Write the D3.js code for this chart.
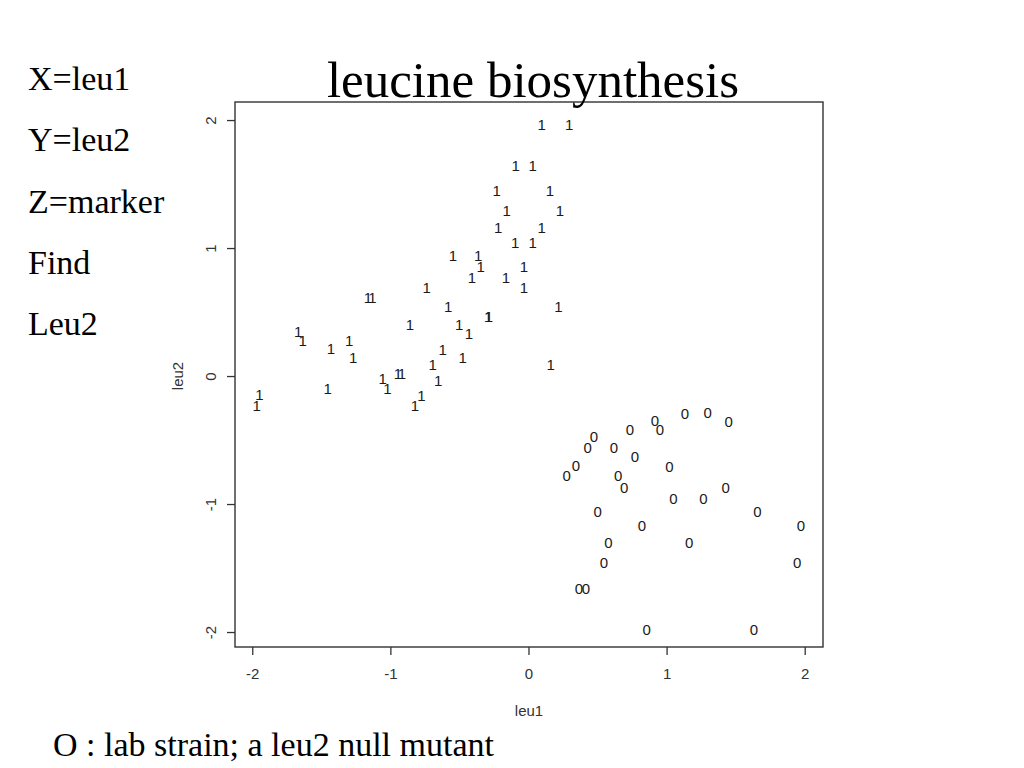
<!DOCTYPE html>
<html>
<head>
<meta charset="utf-8">
<script src="https://cdn.jsdelivr.net/npm/d3@7"></script>
<style>
    body { margin: 0; background: #fff; }
    svg { display: block; }
</style>
</head>
<body>
<div id="wrapper"></div>
<script>
// marker "1" group (leu1, leu2)
const onesX = [0.096, 0.295, -0.093, 0.030, -0.230, 0.156, -0.158, 0.228, -0.219, 0.096,
    -0.096, 0.030, -0.547, -0.364, -0.346, -0.033, -0.409, -0.163, -0.737, -0.033,
    -1.162, -1.130, -0.581, 0.216, -0.291, -0.286, -0.858, -0.501, -0.431, -1.667,
    -1.635, -1.298, -1.430, -0.621, -1.269, -0.476, -0.694, 0.161, -1.056, -1.022,
    -0.945, -0.916, -0.653, -1.454, -0.775, -0.822, -1.949, -1.968];
const onesY = [1.969, 1.969, 1.648, 1.648, 1.448, 1.448, 1.291, 1.291, 1.159, 1.159,
    1.045, 1.045, 0.945, 0.945, 0.859, 0.859, 0.768, 0.768, 0.691, 0.691,
    0.613, 0.613, 0.547, 0.547, 0.469, 0.469, 0.404, 0.404, 0.334, 0.346,
    0.281, 0.281, 0.216, 0.211, 0.146, 0.146, 0.091, 0.091, -0.018, -0.096,
    0.021, 0.021, -0.031, -0.096, -0.152, -0.227, -0.148, -0.227];

// marker "0" group
const zerosX = [0.277, 0.344, 0.429, 0.474, 0.619, 0.735, 0.916, 0.952, 1.133, 1.298,
    1.450, 0.771, 1.020, 0.650, 0.692, 1.428, 1.049, 1.266, 0.501, 1.657,
    0.822, 1.973, 0.578, 1.164, 0.547, 1.946, 0.366, 0.416, 0.856, 1.633];
const zerosY = [-0.779, -0.701, -0.557, -0.474, -0.557, -0.416, -0.344, -0.416, -0.291, -0.287,
    -0.352, -0.625, -0.703, -0.779, -0.870, -0.870, -0.955, -0.955, -1.060, -1.060,
    -1.170, -1.170, -1.302, -1.302, -1.455, -1.455, -1.659, -1.659, -1.979, -1.979];

const xTicks = [-2, -1, 0, 1, 2];
const yTicks = [-2, -1, 0, 1, 2];
const sideNotes = ["X=leu1", "Y=leu2", "Z=marker", "Find", "Leu2"];

const width = 1024;
const height = 768;
const box = { left: 235, top: 102, width: 588, height: 545 };

const serif = "'Liberation Serif', 'Times New Roman', serif";
const sans = "'Liberation Sans', Arial, Helvetica, sans-serif";

const svg = d3.select("#wrapper")
    .append("svg")
    .attr("width", width)
    .attr("height", height);

const bounds = svg.append("g")
    .attr("transform", `translate(${box.left},${box.top})`);

const xScale = d3.scaleLinear()
    .domain([-2.125, 2.1325])
    .range([0, box.width]);

const yScale = d3.scaleLinear()
    .domain([-2.117, 2.141])
    .range([box.height, 0]);

// points drawn as characters, like R's pch
const ones = d3.zip(onesX, onesY);
const zeros = d3.zip(zerosX, zerosY);

function drawMarks(data, label) {
    bounds.append("g")
        .selectAll("text")
        .data(data)
        .join("text")
        .attr("x", d => xScale(d[0]))
        .attr("y", d => yScale(d[1]))
        .attr("text-anchor", "middle")
        .attr("dominant-baseline", "central")
        .attr("font-family", sans)
        .attr("font-size", 15)
        .attr("fill", "#1a1a1a")
        .text(label);
}
drawMarks(ones, "1");
drawMarks(zeros, "0");

bounds.append("rect")
    .attr("width", box.width)
    .attr("height", box.height)
    .attr("fill", "none")
    .attr("stroke", "#333")
    .attr("stroke-width", 1.4);

const tickLabel = d => String(d);

const xAxis = bounds.append("g")
    .attr("transform", `translate(0,${box.height})`)
    .call(d3.axisBottom(xScale).tickValues(xTicks).tickSize(8).tickPadding(13).tickFormat(tickLabel));

const yAxis = bounds.append("g")
    .call(d3.axisLeft(yScale).tickValues(yTicks).tickSize(8).tickFormat(tickLabel));

[xAxis, yAxis].forEach(axis => {
    axis.select(".domain").remove();
    axis.selectAll("line").attr("stroke", "#333").attr("stroke-width", 1.3);
    axis.selectAll("text")
        .attr("font-family", sans)
        .attr("font-size", 15)
        .attr("fill", "#333");
});

yAxis.selectAll("text")
    .attr("x", null)
    .attr("dy", null)
    .attr("text-anchor", "middle")
    .attr("dominant-baseline", "central")
    .attr("transform", "translate(-25,0) rotate(-90)");

svg.append("text")
    .attr("x", 529)
    .attr("y", 710)
    .attr("text-anchor", "middle")
    .attr("dominant-baseline", "central")
    .attr("font-family", sans)
    .attr("font-size", 15)
    .attr("fill", "#333")
    .text("leu1");

svg.append("text")
    .attr("transform", "translate(177,376) rotate(-90)")
    .attr("text-anchor", "middle")
    .attr("dominant-baseline", "central")
    .attr("font-family", sans)
    .attr("font-size", 15)
    .attr("fill", "#333")
    .text("leu2");

// slide texts
svg.append("text")
    .attr("x", 533)
    .attr("y", 97)
    .attr("text-anchor", "middle")
    .attr("font-family", serif)
    .attr("font-size", 51)
    .attr("fill", "#000")
    .text("leucine biosynthesis");

svg.append("g")
    .selectAll("text")
    .data(sideNotes)
    .join("text")
    .attr("x", 28)
    .attr("y", (d, i) => 90 + i * 61.3)
    .attr("font-family", serif)
    .attr("font-size", 34)
    .attr("fill", "#000")
    .text(d => d);

svg.append("text")
    .attr("x", 53)
    .attr("y", 756)
    .attr("font-family", serif)
    .attr("font-size", 34)
    .attr("fill", "#000")
    .text("O : lab strain; a leu2 null mutant");
</script>
</body>
</html>
